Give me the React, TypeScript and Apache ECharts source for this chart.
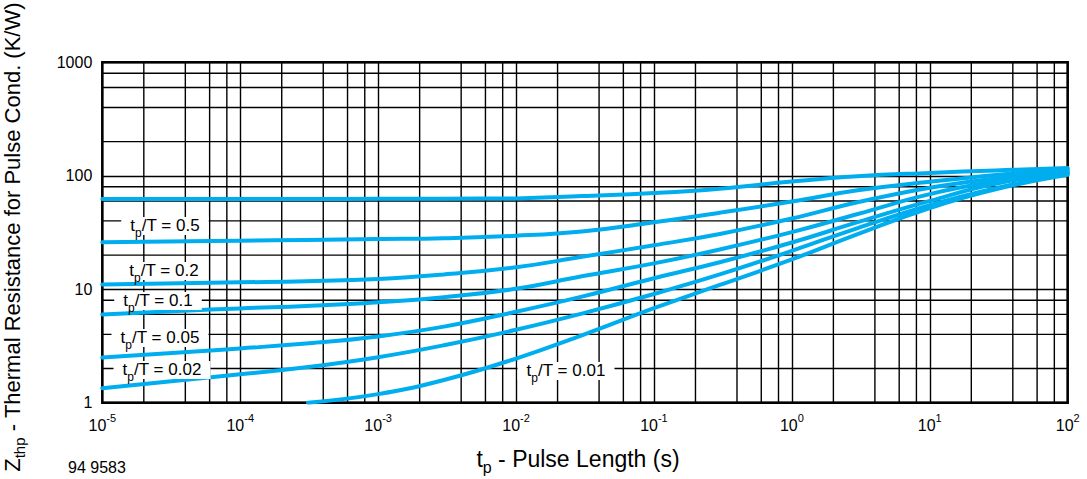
import React, { useEffect, useRef } from 'react';
import * as echarts from 'echarts';

// pulse length tp (s)
const T_VALUES = [1e-5, 1e-4, 3e-4, 1e-3, 3e-3, 1e-2, 3e-2, 1e-1, 3e-1, 1, 3, 10, 30, 100];
// Zthp (K/W) for each duty cycle tp/T
const Z_050 = [62.5, 62.5, 62.5, 62.6, 62.8, 63.2, 66.3, 70.5, 77, 89, 99, 106, 111.5, 117];
const Z_020 = [26.0, 26.8, 27.2, 27.7, 28.2, 29.6, 32.3, 38.9, 47.2, 59.3, 74.5, 88.5, 101.5, 114];
const Z_010 = [11.0, 11.5, 11.75, 12.3, 13.5, 15.6, 19.3, 24.4, 30.7, 42, 58.5, 78.5, 94.8, 111];
const Z_005 = [6.0, 6.78, 7.11, 7.67, 8.51, 10.1, 13.0, 16.9, 22.4, 31.9, 46, 68.9, 89.2, 108];
const Z_002 = [2.5, 3.01, 3.32, 3.84, 4.68, 6.33, 8.6, 12.5, 17.3, 25.8, 39, 60, 85.1, 106];
const Z_001 = [1.34, 1.78, 2.05, 2.52, 3.21, 4.39, 6.1, 9.08, 13.5, 21.8, 34.6, 55, 77.6, 105];
// single pulse curve
const T_SINGLE = [3.1e-4, 1e-3, 3e-3, 1e-2, 3e-2, 1e-1, 3e-1, 1, 3, 10, 30, 100];
const Z_SINGLE = [1.0, 1.19, 1.586, 2.45, 3.92, 6.8, 10.9, 18.3, 30.6, 52, 76, 102];

const CURVES = [Z_050, Z_020, Z_010, Z_005, Z_002, Z_001];
const DUTY_LABELS = ['0.5', '0.2', '0.1', '0.05', '0.02', '0.01'];

const X_MIN = 1e-5;
const X_MAX = 100;
const Y_MIN = 1;
const Y_MAX = 1000;
const X_DECADES = [1e-5, 1e-4, 1e-3, 1e-2, 1e-1, 1, 10];
const Y_DECADES = [1, 10, 100];
const MINOR_STEPS = [2, 4, 6, 8];

const X_TITLE_MAIN = ' - Pulse Length (s)';
const Y_TITLE_MAIN = ' - Thermal Resistance for Pulse Cond. (K/W)';
const FIG_ID = '94 9583';

const FONT = '"Liberation Sans", Arial, Helvetica, sans-serif';
const BLUE = '#00AEEF';

export default function App() {
  const ref = useRef<HTMLDivElement>(null);
  useEffect(() => {
    document.body.style.margin = '0';
    const chart = echarts.init(ref.current!, undefined, { renderer: 'svg' });

    const gridStyle = { color: '#000', width: 1.4 };
    const gridSeries: any[] = [];
    X_DECADES.forEach((d) =>
      MINOR_STEPS.forEach((m) =>
        gridSeries.push({
          type: 'line',
          data: [[d * m, Y_MIN], [d * m, Y_MAX]],
          symbol: 'none',
          showSymbol: false,
          silent: true,
          lineStyle: gridStyle,
          z: 1,
        })
      )
    );
    Y_DECADES.forEach((d) =>
      MINOR_STEPS.forEach((m) =>
        gridSeries.push({
          type: 'line',
          data: [[X_MIN, d * m], [X_MAX, d * m]],
          symbol: 'none',
          showSymbol: false,
          silent: true,
          lineStyle: gridStyle,
          z: 1,
        })
      )
    );

    const curveStyle = { color: BLUE, width: 4, cap: 'round', join: 'round' };
    const curveSeries: any[] = CURVES.map((vals, i) => ({
      type: 'line',
      name: 'tp/T=' + DUTY_LABELS[i],
      data: T_VALUES.map((t, k) => [t, vals[k]]),
      showSymbol: false,
      symbol: 'none',
      smooth: 0.45,
      lineStyle: curveStyle,
      z: 5,
      silent: true,
    }));
    curveSeries.push({
      type: 'line',
      name: 'single',
      data: T_SINGLE.map((t, k) => [t, Z_SINGLE[k]]),
      showSymbol: false,
      symbol: 'none',
      smooth: 0.45,
      lineStyle: curveStyle,
      z: 5,
      silent: true,
    });

    const labelRich = {
      a: { fontSize: 17, fontFamily: FONT, color: '#000', lineHeight: 18, verticalAlign: 'top' },
      s: { fontSize: 12, fontFamily: FONT, color: '#000', lineHeight: 12, padding: [10, 0, 0, 0], verticalAlign: 'top' },
    };
    const labelPos = [
      [165, 226],
      [164, 271],
      [158, 301],
      [160, 338],
      [162, 370],
      [566, 371],
    ];
    const labelGraphics = DUTY_LABELS.map((lab, i) => ({
      type: 'text',
      x: labelPos[i][0],
      y: labelPos[i][1],
      z: 10,
      style: {
        text: '{a|t}{s|p}{a|/T = ' + lab + '}',
        rich: labelRich,
        align: 'center',
        verticalAlign: 'middle',
        backgroundColor: '#fff',
        padding: [0, 9, 0, 9],
      },
    }));

    const titleRich = (size: number) => ({
      a: { fontSize: size, fontFamily: FONT, color: '#000', lineHeight: size + 2, verticalAlign: 'top' },
      s: { fontSize: Math.round(size * 0.68), fontFamily: FONT, color: '#000', lineHeight: Math.round(size * 0.68), padding: [Math.round(size * 0.5), 0, 0, 0], verticalAlign: 'top' },
    });

    chart.setOption({
      animation: false,
      grid: {
        left: 102.3,
        right: 19.3,
        top: 62.3,
        bottom: 76.3,
        show: true,
        borderColor: '#000',
        borderWidth: 2.5,
        backgroundColor: 'transparent',
      },
      xAxis: {
        type: 'log',
        logBase: 10,
        min: X_MIN,
        max: X_MAX,
        splitNumber: 7,
        axisLine: { show: false },
        axisTick: { show: false },
        splitLine: { show: true, lineStyle: gridStyle },
        axisLabel: {
          margin: 12,
          color: '#000',
          formatter: (v: number) => '{b|10}{s|' + Math.round(Math.log10(v)) + '}',
          rich: {
            b: { fontSize: 16, fontFamily: FONT, color: '#000', lineHeight: 19, verticalAlign: 'bottom' },
            s: { fontSize: 11, fontFamily: FONT, color: '#000', lineHeight: 11, padding: [0, 0, 10, 0], verticalAlign: 'bottom' },
          },
        },
      },
      yAxis: {
        type: 'log',
        logBase: 10,
        min: Y_MIN,
        max: Y_MAX,
        splitNumber: 3,
        axisLine: { show: false },
        axisTick: { show: false },
        splitLine: { show: true, lineStyle: gridStyle },
        axisLabel: {
          margin: 10,
          color: '#000',
          fontSize: 16,
          fontFamily: FONT,
          formatter: (v: number) => String(Math.round(v)),
        },
      },
      series: [...gridSeries, ...curveSeries],
      graphic: [
        ...labelGraphics,
        {
          type: 'text',
          x: 578,
          y: 460,
          style: {
            text: '{a|t}{s|p}{a|' + X_TITLE_MAIN + '}',
            align: 'center',
            verticalAlign: 'middle',
            rich: titleRich(23),
          },
        },
        {
          type: 'text',
          x: 13,
          y: 237,
          rotation: Math.PI / 2,
          style: {
            text: '{a|Z}{s|thp}{a|' + Y_TITLE_MAIN + '}',
            align: 'center',
            verticalAlign: 'middle',
            rich: titleRich(22),
          },
        },
        {
          type: 'text',
          x: 68,
          y: 467,
          style: {
            text: FIG_ID,
            fontSize: 16,
            fontFamily: FONT,
            fill: '#000',
            align: 'left',
            verticalAlign: 'middle',
          },
        },
      ],
    });
    return () => chart.dispose();
  }, []);
  return <div ref={ref} style={{ width: 1087, height: 479 }} />;
}
